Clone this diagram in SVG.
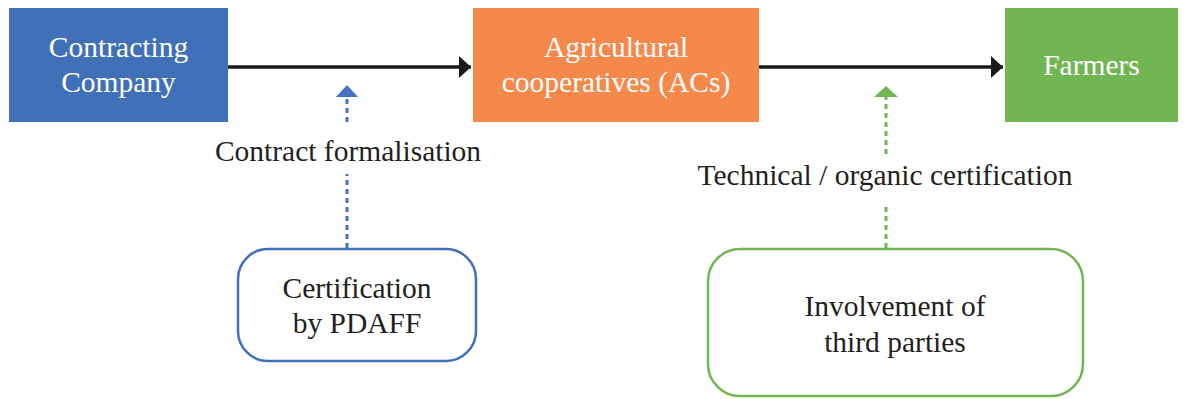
<svg xmlns="http://www.w3.org/2000/svg" width="1186" height="399" viewBox="0 0 1186 399">
<style>
text{font-family:"Liberation Serif","Times New Roman",serif;font-size:29.5px;text-anchor:middle;fill:#231f20}
.w{fill:#ffffff}
.solid{stroke:#1a1a1a;stroke-width:3.5;fill:none}
.db{stroke:#4472c4;stroke-width:3;stroke-dasharray:5 4;fill:none}
.dg{stroke:#70b652;stroke-width:3;stroke-dasharray:5 4;fill:none}
</style>
<defs>
<marker id="ak" markerWidth="12" markerHeight="22" refX="12" refY="11" orient="auto" markerUnits="userSpaceOnUse"><path d="M0,0 L12,11 L0,22 Z" fill="#1a1a1a"/></marker>
</defs>
<g id="contracting-company">
<rect x="9" y="8" width="219" height="114" fill="#4070b8"/>
<text class="w" x="118.5" y="57">Contracting</text>
<text class="w" x="118.5" y="92">Company</text>
</g>
<g id="agricultural-cooperatives">
<rect x="473" y="8" width="286" height="114" fill="#f4894b"/>
<text class="w" x="616" y="57">Agricultural</text>
<text class="w" x="616" y="92">cooperatives (ACs)</text>
</g>
<g id="farmers">
<rect x="1005" y="8" width="173" height="114" fill="#72b654"/>
<text class="w" x="1091.5" y="75">Farmers</text>
</g>
<g id="certification-pdaff">
<rect x="238" y="249" width="238" height="112" rx="30" ry="30" fill="#ffffff" stroke="#4070b8" stroke-width="2.5"/>
<text x="357" y="298">Certification</text>
<text x="357" y="333">by PDAFF</text>
</g>
<g id="third-parties">
<rect x="708" y="249" width="375" height="147" rx="32" ry="32" fill="#ffffff" stroke="#72b654" stroke-width="2.5"/>
<text x="895" y="316">Involvement of</text>
<text x="895" y="352">third parties</text>
</g>
<g id="connectors">
<line class="solid" x1="228" y1="67" x2="471" y2="67" marker-end="url(#ak)"/>
<line class="solid" x1="759" y1="67" x2="1003" y2="67" marker-end="url(#ak)"/>
<line class="db" x1="347" y1="248" x2="347" y2="174"/>
<line class="db" x1="347" y1="122" x2="347" y2="96"/>
<path d="M336,97 L347,85 L358,97 Z" fill="#4472c4"/>
<text x="348" y="161">Contract formalisation</text>
<line class="dg" x1="886" y1="248" x2="886" y2="203"/>
<line class="dg" x1="886" y1="154" x2="886" y2="96"/>
<path d="M874,97 L886,86 L898,97 Z" fill="#70b652"/>
<text x="885" y="185">Technical / organic certification</text>
</g>
</svg>
